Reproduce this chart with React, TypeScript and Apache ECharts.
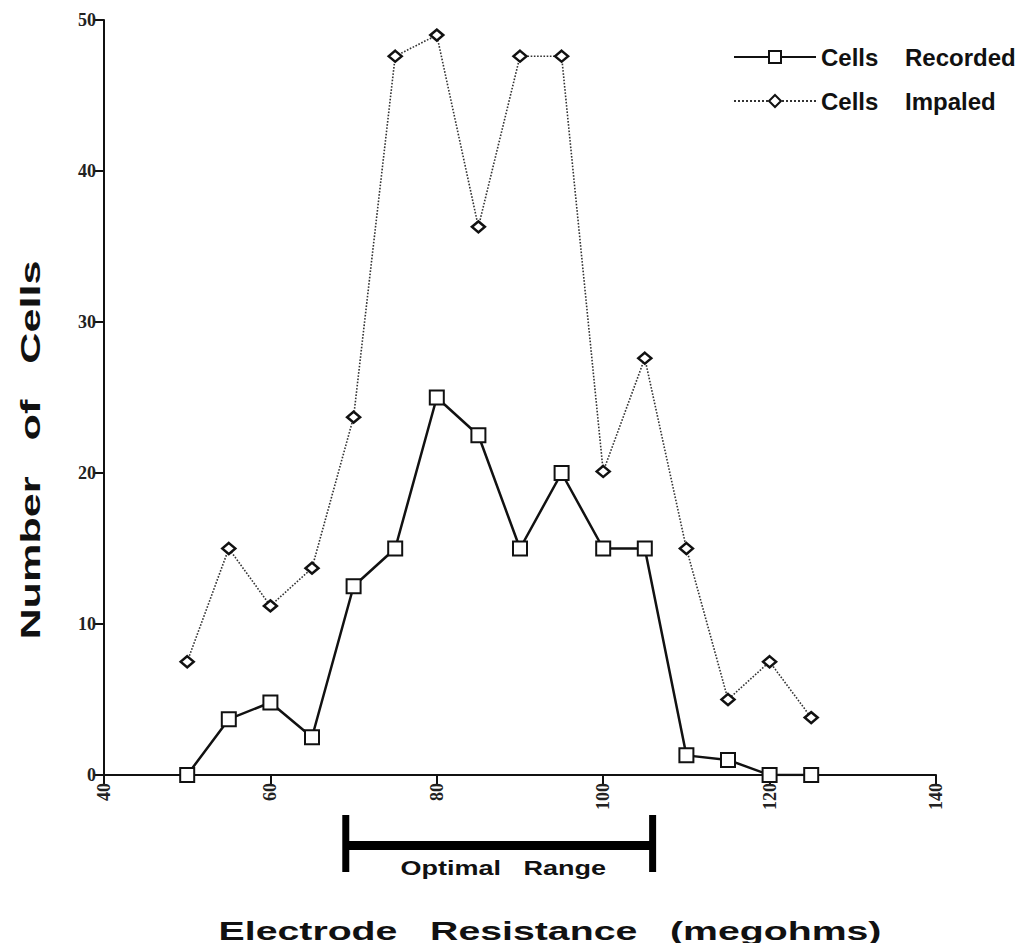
import React, { useEffect, useRef } from "react";
import * as echarts from "echarts";

const resistance = [50, 55, 60, 65, 70, 75, 80, 85, 90, 95, 100, 105, 110, 115, 120, 125];
const cellsRecorded = [0, 3.7, 4.8, 2.5, 12.5, 15, 25, 22.5, 15, 20, 15, 15, 1.3, 1, 0, 0];
const cellsImpaled = [7.5, 15, 11.2, 13.7, 23.7, 47.6, 49, 36.3, 47.6, 47.6, 20.1, 27.6, 15, 5, 7.5, 3.8];
const optimalRange = [69, 106];
const xTicks = [40, 60, 80, 100, 120, 140];
const yTicks = [0, 10, 20, 30, 40, 50];

const SANS = "'Liberation Sans', Arial, Helvetica, sans-serif";
const SERIF = "'Liberation Serif', 'Times New Roman', serif";

export default function App() {
  const ref = useRef<HTMLDivElement>(null);

  useEffect(() => {
    if (!ref.current) return;
    const chart = echarts.init(ref.current, undefined, { renderer: "svg" });
    const zip = (ys: number[]) => resistance.map((x, i) => [x, ys[i]]);
    chart.setOption({
      animation: false,
      backgroundColor: "#ffffff",
      grid: { left: 104, right: 98, top: 20, bottom: 176, containLabel: false },
      xAxis: {
        type: "value",
        min: xTicks[0],
        max: xTicks[xTicks.length - 1],
        interval: 20,
        splitLine: { show: false },
        axisLine: { lineStyle: { color: "#111", width: 2 } },
        axisTick: { inside: false, length: 9, lineStyle: { color: "#111", width: 2 } },
        axisLabel: {
          rotate: 90,
          margin: 8,
          color: "#222",
          fontFamily: SERIF,
          fontSize: 18,
          fontWeight: "bold",
        },
      },
      yAxis: {
        type: "value",
        min: yTicks[0],
        max: yTicks[yTicks.length - 1],
        interval: 10,
        splitLine: { show: false },
        axisLine: { lineStyle: { color: "#111", width: 2 } },
        axisTick: { inside: false, length: 10, lineStyle: { color: "#111", width: 2 } },
        axisLabel: {
          margin: 8,
          color: "#222",
          fontFamily: SERIF,
          fontSize: 18,
          fontWeight: "bold",
        },
      },
      legend: {
        orient: "vertical",
        left: 733,
        top: 45,
        padding: 0,
        itemWidth: 82,
        itemHeight: 15,
        itemGap: 20,
        data: ["Cells    Recorded", "Cells    Impaled"],
        textStyle: {
          color: "#111",
          fontFamily: SANS,
          fontWeight: "bold",
          fontSize: 24,
          lineHeight: 24,
        },
      },
      series: [
        {
          name: "Cells    Impaled",
          type: "line",
          data: zip(cellsImpaled),
          symbol: "diamond",
          symbolSize: [13, 11],
          lineStyle: { color: "#333", width: 1.6, type: "dotted" },
          itemStyle: { color: "#fff", borderColor: "#111", borderWidth: 2.5 },
          z: 3,
        },
        {
          name: "Cells    Recorded",
          type: "line",
          data: zip(cellsRecorded),
          symbol: "rect",
          symbolSize: 14,
          lineStyle: { color: "#111", width: 2.5 },
          itemStyle: { color: "#fff", borderColor: "#111", borderWidth: 2 },
          z: 4,
        },
        {
          name: "Optimal Range",
          type: "custom",
          clip: false,
          silent: true,
          encode: { x: [0, 1], y: 2 },
          data: [[optimalRange[0], optimalRange[1], 0]],
          renderItem: (params: any, api: any) => {
            const a = api.coord([api.value(0), 0]);
            const b = api.coord([api.value(1), 0]);
            const y0 = a[1];
            return {
              type: "group",
              children: [
                {
                  type: "rect",
                  shape: { x: a[0], y: y0 + 66, width: b[0] - a[0], height: 9 },
                  style: { fill: "#000" },
                },
                {
                  type: "rect",
                  shape: { x: a[0] - 3, y: y0 + 40, width: 7, height: 57 },
                  style: { fill: "#000" },
                },
                {
                  type: "rect",
                  shape: { x: b[0] - 4, y: y0 + 40, width: 7, height: 57 },
                  style: { fill: "#000" },
                },
                {
                  type: "text",
                  x: (a[0] + b[0]) / 2 + 4,
                  y: y0 + 93,
                  scaleX: 1.35,
                  style: {
                    text: "Optimal   Range",
                    x: 0,
                    y: 0,
                    align: "center",
                    verticalAlign: "middle",
                    fontFamily: SANS,
                    fontWeight: "bold",
                    fontSize: 20,
                    fill: "#111",
                  },
                },
              ],
            };
          },
        },
      ],
      graphic: [
        {
          type: "text",
          x: 550,
          y: 931,
          scaleX: 1.57,
          style: {
            text: "Electrode   Resistance   (megohms)",
            x: 0,
            y: 0,
            align: "center",
            verticalAlign: "middle",
            fontFamily: SANS,
            fontWeight: "bold",
            fontSize: 25,
            fill: "#111",
          },
        },
        {
          type: "text",
          x: 31,
          y: 450,
          rotation: Math.PI / 2,
          scaleX: 1.6,
          style: {
            text: "Number   of   Cells",
            x: 0,
            y: 0,
            align: "center",
            verticalAlign: "middle",
            fontFamily: SANS,
            fontWeight: "bold",
            fontSize: 27,
            fill: "#111",
          },
        },
      ],
    });
    return () => chart.dispose();
  }, []);

  return <div ref={ref} style={{ width: 1034, height: 951, margin: -8 }} />;
}
